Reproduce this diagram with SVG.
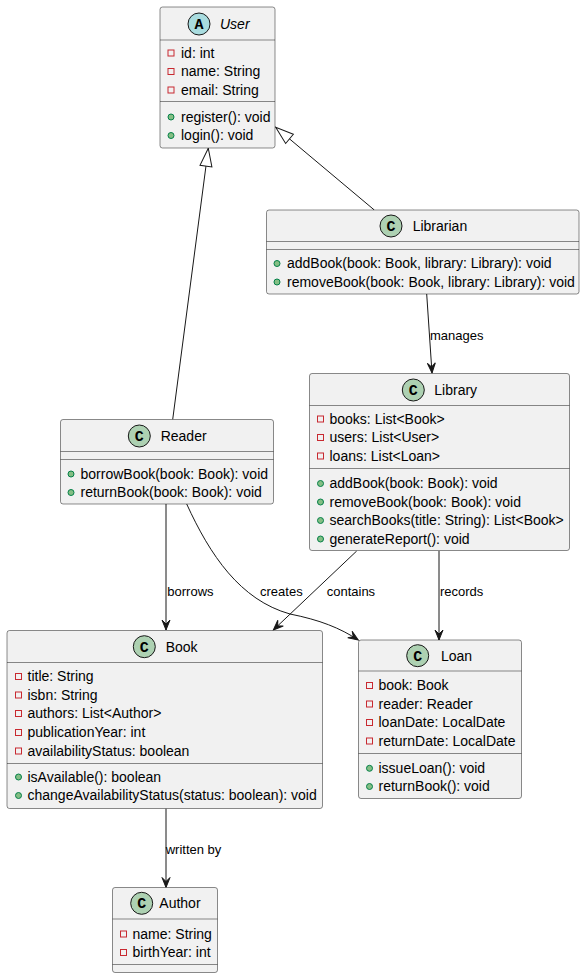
<svg xmlns="http://www.w3.org/2000/svg" width="585" height="978" viewBox="0 0 585 978">
<style>
.box{fill:#F1F1F1;stroke:#181818;stroke-width:0.5}
.sep{stroke:#181818;stroke-width:0.5}
.ic{fill:#ADD1B2;stroke:#181818;stroke-width:1}
.ia{fill:#A9DCDF;stroke:#181818;stroke-width:1}
.lt{font-family:"Liberation Mono",monospace;font-weight:bold;font-size:15px;fill:#000;text-anchor:middle}
.nm{font-family:"Liberation Sans",Arial,sans-serif;font-size:14px;fill:#000}
.t{font-family:"Liberation Sans",Arial,sans-serif;font-size:14px;fill:#000}
.lb{font-family:"Liberation Sans",Arial,sans-serif;font-size:13px;fill:#000}
.pv{fill:none;stroke:#C82930;stroke-width:1}
.pb{fill:#84BE84;stroke:#038048;stroke-width:1}
.ln{fill:none;stroke:#181818;stroke-width:1}
</style>
<defs>
<marker id="arr" markerUnits="userSpaceOnUse" markerWidth="14" markerHeight="12" refX="0" refY="0" viewBox="-11 -6 14 12" orient="auto" overflow="visible">
<path d="M0,0 L-10,-4 L-6,0 L-10,4 Z" fill="#181818" stroke="#181818" stroke-width="1"/>
</marker>
<marker id="tri" markerUnits="userSpaceOnUse" markerWidth="22" markerHeight="16" refX="0" refY="0" viewBox="-20 -8 22 16" orient="auto" overflow="visible">
<path d="M0,0 L-18,-6 L-18,6 Z" fill="#FFFFFF" stroke="#181818" stroke-width="1"/>
</marker>
</defs>
<rect width="585" height="978" fill="#FFFFFF"/>

<g id="connectors">
<line class="ln" x1="172.7" y1="419.5" x2="208.3" y2="148.3" marker-end="url(#tri)"/>
<line class="ln" x1="374.3" y1="210" x2="275.7" y2="127.3" marker-end="url(#tri)"/>
<line class="ln" x1="426.7" y1="294" x2="432" y2="373" marker-end="url(#arr)"/>
<text class="lb" x="430" y="339.5">manages</text>
<line class="ln" x1="166" y1="504" x2="166" y2="630" marker-end="url(#arr)"/>
<text class="lb" x="167.3" y="596">borrows</text>
<path class="ln" d="M186.7,504 C210,555 240,600 290,614 C320,620 340,628 358.3,640" marker-end="url(#arr)"/>
<text class="lb" x="260" y="596">creates</text>
<line class="ln" x1="356.7" y1="551" x2="273.3" y2="630" marker-end="url(#arr)"/>
<text class="lb" x="326.7" y="596">contains</text>
<line class="ln" x1="439" y1="551" x2="439" y2="640" marker-end="url(#arr)"/>
<text class="lb" x="440" y="596">records</text>
<line class="ln" x1="166" y1="808.5" x2="166" y2="887.5" marker-end="url(#arr)"/>
<text class="lb" x="165.7" y="853.8">written by</text>
</g>

<g id="User">
<rect class="box" x="160" y="7" width="115" height="141" rx="2.5"/>
<circle class="ia" cx="199" cy="24" r="11"/>
<text class="lt" x="199" cy="24" y="29">A</text>
<text class="nm" x="220" y="29" font-style="italic">User</text>
<line class="sep" x1="160" y1="40" x2="275" y2="40"/>
<rect class="pv" x="168" y="50" width="6" height="6"/>
<text class="t" x="181" y="57.5">id: int</text>
<rect class="pv" x="168" y="68.5" width="6" height="6"/>
<text class="t" x="181" y="76">name: String</text>
<rect class="pv" x="168" y="87" width="6" height="6"/>
<text class="t" x="181" y="94.5">email: String</text>
<line class="sep" x1="160" y1="101.5" x2="275" y2="101.5"/>
<circle class="pb" cx="171" cy="117" r="3"/>
<text class="t" x="181" y="121.5">register(): void</text>
<circle class="pb" cx="171" cy="135.5" r="3"/>
<text class="t" x="181" y="140">login(): void</text>
</g>

<g id="Librarian">
<rect class="box" x="266.5" y="210" width="312.5" height="84" rx="2.5"/>
<circle class="ic" cx="391" cy="226" r="11"/>
<text class="lt" x="391" y="231">C</text>
<text class="nm" x="412.7" y="231">Librarian</text>
<line class="sep" x1="266.5" y1="241.5" x2="579" y2="241.5"/>
<line class="sep" x1="266.5" y1="249.5" x2="579" y2="249.5"/>
<circle class="pb" cx="277" cy="263.5" r="3"/>
<text class="t" x="287" y="268">addBook(book: Book, library: Library): void</text>
<circle class="pb" cx="277" cy="282" r="3"/>
<text class="t" x="287" y="286.5">removeBook(book: Book, library: Library): void</text>
</g>

<g id="Library">
<rect class="box" x="309.5" y="373.5" width="260" height="177" rx="2.5"/>
<circle class="ic" cx="413.3" cy="390" r="11"/>
<text class="lt" x="413.3" y="395">C</text>
<text class="nm" x="434.3" y="395">Library</text>
<line class="sep" x1="309.5" y1="405.5" x2="569.5" y2="405.5"/>
<rect class="pv" x="317.5" y="416" width="6" height="6"/>
<text class="t" x="329.5" y="423.5">books: List&lt;Book&gt;</text>
<rect class="pv" x="317.5" y="434.5" width="6" height="6"/>
<text class="t" x="329.5" y="442">users: List&lt;User&gt;</text>
<rect class="pv" x="317.5" y="453" width="6" height="6"/>
<text class="t" x="329.5" y="460.5">loans: List&lt;Loan&gt;</text>
<line class="sep" x1="309.5" y1="468.5" x2="569.5" y2="468.5"/>
<circle class="pb" cx="320.5" cy="483.5" r="3"/>
<text class="t" x="329.5" y="488">addBook(book: Book): void</text>
<circle class="pb" cx="320.5" cy="502" r="3"/>
<text class="t" x="329.5" y="506.5">removeBook(book: Book): void</text>
<circle class="pb" cx="320.5" cy="520.5" r="3"/>
<text class="t" x="329.5" y="525">searchBooks(title: String): List&lt;Book&gt;</text>
<circle class="pb" cx="320.5" cy="539" r="3"/>
<text class="t" x="329.5" y="543.5">generateReport(): void</text>
</g>

<g id="Reader">
<rect class="box" x="60.5" y="419.5" width="213" height="84.5" rx="2.5"/>
<circle class="ic" cx="139.3" cy="436" r="11"/>
<text class="lt" x="139.3" y="441">C</text>
<text class="nm" x="160.7" y="441">Reader</text>
<line class="sep" x1="60.5" y1="451.5" x2="273.5" y2="451.5"/>
<line class="sep" x1="60.5" y1="459.5" x2="273.5" y2="459.5"/>
<circle class="pb" cx="71" cy="474" r="3"/>
<text class="t" x="80.5" y="478.5">borrowBook(book: Book): void</text>
<circle class="pb" cx="71" cy="492.5" r="3"/>
<text class="t" x="80.5" y="497">returnBook(book: Book): void</text>
</g>

<g id="Book">
<rect class="box" x="7" y="630.5" width="315.5" height="178" rx="2.5"/>
<circle class="ic" cx="144.3" cy="646.7" r="11"/>
<text class="lt" x="144.3" y="651.7">C</text>
<text class="nm" x="165.7" y="651.7">Book</text>
<line class="sep" x1="7" y1="662.5" x2="322.5" y2="662.5"/>
<rect class="pv" x="15.5" y="673.5" width="6" height="6"/>
<text class="t" x="27.5" y="681">title: String</text>
<rect class="pv" x="15.5" y="692" width="6" height="6"/>
<text class="t" x="27.5" y="699.5">isbn: String</text>
<rect class="pv" x="15.5" y="710.5" width="6" height="6"/>
<text class="t" x="27.5" y="718">authors: List&lt;Author&gt;</text>
<rect class="pv" x="15.5" y="729.5" width="6" height="6"/>
<text class="t" x="27.5" y="737">publicationYear: int</text>
<rect class="pv" x="15.5" y="748" width="6" height="6"/>
<text class="t" x="27.5" y="755.5">availabilityStatus: boolean</text>
<line class="sep" x1="7" y1="763.5" x2="322.5" y2="763.5"/>
<circle class="pb" cx="18.5" cy="777" r="3"/>
<text class="t" x="27.5" y="781.5">isAvailable(): boolean</text>
<circle class="pb" cx="18.5" cy="795.5" r="3"/>
<text class="t" x="27.5" y="800">changeAvailabilityStatus(status: boolean): void</text>
</g>

<g id="Loan">
<rect class="box" x="358.5" y="640" width="163" height="158.5" rx="2.5"/>
<circle class="ic" cx="417.7" cy="655.7" r="11"/>
<text class="lt" x="417.7" y="660.7">C</text>
<text class="nm" x="441" y="660.7">Loan</text>
<line class="sep" x1="358.5" y1="671" x2="521.5" y2="671"/>
<rect class="pv" x="366.5" y="682.5" width="6" height="6"/>
<text class="t" x="378.5" y="690">book: Book</text>
<rect class="pv" x="366.5" y="701" width="6" height="6"/>
<text class="t" x="378.5" y="708.7">reader: Reader</text>
<rect class="pv" x="366.5" y="719.5" width="6" height="6"/>
<text class="t" x="378.5" y="727.3">loanDate: LocalDate</text>
<rect class="pv" x="366.5" y="738" width="6" height="6"/>
<text class="t" x="378.5" y="746">returnDate: LocalDate</text>
<line class="sep" x1="358.5" y1="753.5" x2="521.5" y2="753.5"/>
<circle class="pb" cx="369.5" cy="768.3" r="3"/>
<text class="t" x="378.5" y="772.8">issueLoan(): void</text>
<circle class="pb" cx="369.5" cy="786.5" r="3"/>
<text class="t" x="378.5" y="791">returnBook(): void</text>
</g>

<g id="Author">
<rect class="box" x="112.5" y="887.5" width="105" height="85" rx="2.5"/>
<circle class="ic" cx="141.7" cy="903.3" r="11"/>
<text class="lt" x="141.7" y="908.3">C</text>
<text class="nm" x="159.3" y="908.3">Author</text>
<line class="sep" x1="112.5" y1="919" x2="217.5" y2="919"/>
<rect class="pv" x="120.5" y="931" width="6" height="6"/>
<text class="t" x="132.5" y="938.5">name: String</text>
<rect class="pv" x="120.5" y="949.5" width="6" height="6"/>
<text class="t" x="132.5" y="957">birthYear: int</text>
<line class="sep" x1="112.5" y1="964.5" x2="217.5" y2="964.5"/>
</g>
</svg>
